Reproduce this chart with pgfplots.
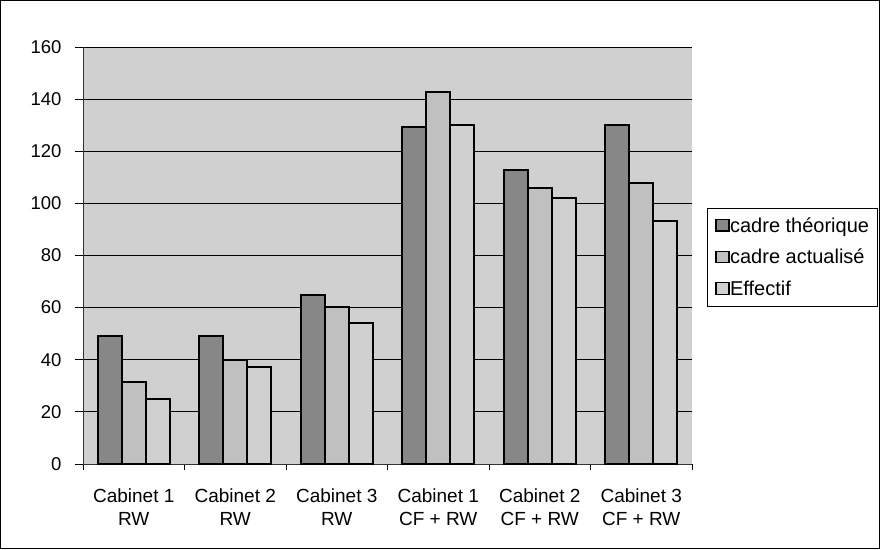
\documentclass[border=0pt]{standalone}
\usepackage{fontspec}
\setmainfont{Liberation Sans}
\usepackage{pgfplots}
\pgfplotsset{compat=1.18}
\definecolor{bg}{RGB}{208,208,208}
\definecolor{c1}{RGB}{135,135,135}
\definecolor{c2}{RGB}{192,192,192}
\definecolor{c3}{RGB}{208,208,208}
\begin{document}
\begin{tikzpicture}[x=1pt,y=1pt]
\useasboundingbox (0,0) rectangle (880,549);
\draw[line width=1.2pt] (0.6,0.6) rectangle (879.4,548.4);
\begin{axis}[
  at={(83pt,85pt)}, anchor=south west,
  scale only axis, width=609pt, height=417pt,
  xmin=-0.5, xmax=5.5, ymin=0, ymax=160,
  ybar=0pt, bar width=24pt,
  axis x line*=bottom, axis y line*=left,
  axis line style={-, line width=0.8pt, black!80},
  axis background/.style={fill=bg},
  ymajorgrids, major grid style={black, line width=0.9pt},
  ytick={0,20,...,160},
  xtick={0,1,2,3,4,5},
  xticklabels={Cabinet 1\\RW, Cabinet 2\\RW, Cabinet 3\\RW, Cabinet 1\\CF + RW, Cabinet 2\\CF + RW, Cabinet 3\\CF + RW},
  minor xtick={-0.5,0.5,...,5.5},
  major x tick style={draw=none},
  minor x tick style={draw=black, line width=0.8pt},
  tick align=outside, major tick length=8pt, minor tick length=6pt,
  ytick style={black, line width=0.8pt},
  /pgf/number format/assume math mode=true,
  xticklabel style={font=\fontsize{19}{23}\selectfont, align=center, yshift=-13pt},
  yticklabel style={font=\fontsize{18.5}{22}\selectfont, xshift=-10pt},
  legend style={at={(1,0.496)}, xshift=15pt, anchor=west, draw=black, line width=0.8pt, fill=white,
    font=\fontsize{20}{24}\selectfont, row sep=13.5pt, inner xsep=8pt, inner ysep=8.5pt,
    nodes={inner xsep=0.5pt, inner ysep=1pt}},
  legend cell align=left,
  legend image code/.code={\draw[#1, line width=1.2pt] (0pt,-5.5pt) rectangle (13pt,6pt);},
  every axis plot/.append style={draw=black, line width=2pt},
]
\addplot[fill=c1] coordinates {(0,49) (1,49) (2,65) (3,129.3) (4,112.8) (5,130.2)};
\addplot[fill=c2] coordinates {(0,31.5) (1,40) (2,60.2) (3,142.7) (4,106) (5,107.9)};
\addplot[fill=c3] coordinates {(0,25) (1,37.2) (2,54.1) (3,130.2) (4,102.1) (5,93.3)};
\legend{cadre théorique, cadre actualisé, Effectif}
\end{axis}
\end{tikzpicture}
\end{document}
